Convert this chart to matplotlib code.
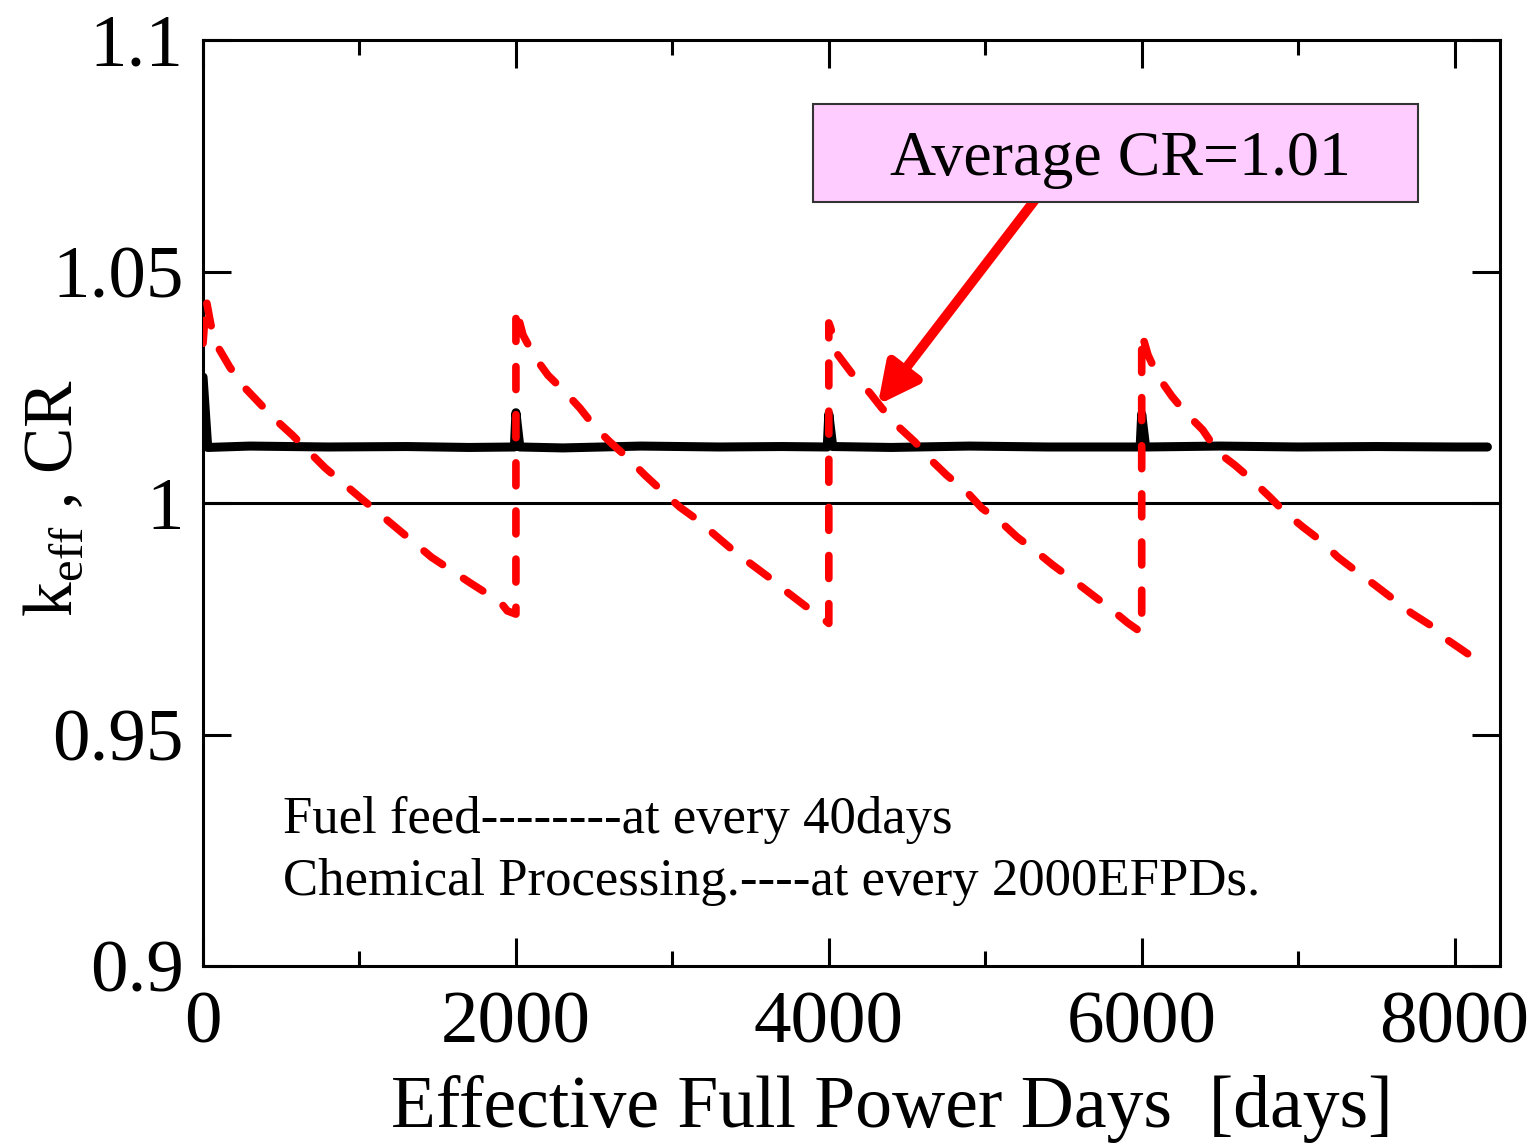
import numpy as np
import matplotlib
matplotlib.use('Agg')
import matplotlib.pyplot as plt
from matplotlib.patches import Rectangle

plt.rcParams['font.family'] = ['Liberation Serif', 'DejaVu Serif']
plt.rcParams['mathtext.fontset'] = 'custom'
plt.rcParams['mathtext.rm'] = 'Liberation Serif'

# keff (red dashed)
keff_days = [0, 20, 50, 90, 170, 250, 450, 570, 780, 1000, 1230, 1460, 1710, 1900, 1945, 2000,
             2000, 2045, 2121, 2205, 2313, 2409, 2505, 2601, 2716, 2825, 2940, 3048, 3163, 3272,
             3387, 3496, 3623, 3732, 3860, 3975, 4000,
             4000, 4010, 4058, 4147, 4262, 4339, 4454, 4550, 4665, 4754, 4882, 4978, 5106, 5202,
             5330, 5432, 5560, 5668, 5796, 5911, 6000,
             6000, 6040, 6103, 6192, 6275, 6390, 6486, 6595, 6691, 6819, 6915, 7031, 7139, 7254,
             7362, 7490, 7598, 7725, 7841, 7956, 8077, 8205]
keff_vals = [1.0345, 1.0440, 1.0385, 1.0340, 1.0294, 1.0255, 1.0184, 1.0147, 1.0076, 1.0013,
             0.9948, 0.9883, 0.9827, 0.9786, 0.9767, 0.9760,
             1.0421, 1.0363, 1.0315, 1.0276, 1.0240, 1.0205, 1.0164, 1.0132, 1.0097, 1.0060,
             1.0024, 0.9991, 0.9963, 0.9931, 0.9898, 0.9870, 0.9838, 0.9808, 0.9775, 0.9747, 0.9740,
             1.0389, 1.0380, 1.0320, 1.0280, 1.0238, 1.0205, 1.0162, 1.0132, 1.0089, 1.0060,
             1.0024, 0.9989, 0.9957, 0.9927, 0.9894, 0.9866, 0.9834, 0.9806, 0.9773, 0.9741, 0.9720,
             1.0367, 1.0320, 1.0274, 1.0231, 1.0197, 1.0158, 1.0110, 1.0082, 1.0054, 1.0013,
             0.9980, 0.9948, 0.9920, 0.9883, 0.9855, 0.9823, 0.9795, 0.9762, 0.9737, 0.9704,
             0.9676, 0.9646]

# conversion ratio CR (black solid)
cr_days = [0, 30, 300, 800, 1300, 1700, 1990, 2000, 2025, 2300, 2800, 3300, 3700, 3990,
           4000, 4025, 4400, 4900, 5400, 5990, 6000, 6025, 6500, 7000, 7500, 8000, 8210]
cr_vals = [1.0272, 1.0120, 1.0123, 1.0121, 1.0122, 1.0120, 1.0121, 1.0195, 1.0121, 1.0119,
           1.0123, 1.0121, 1.0122, 1.0121, 1.0192, 1.0122, 1.0120, 1.0123, 1.0121, 1.0121,
           1.0192, 1.0121, 1.0123, 1.0121, 1.0122, 1.0121, 1.0121]

xticks = [0, 2000, 4000, 6000, 8000]
yticks = [0.9, 0.95, 1.0, 1.05, 1.1]
ytick_labels = ['0.9', '0.95', '1', '1.05', '1.1']

fig = plt.figure(figsize=(15.37, 11.47), dpi=100)
ax = fig.add_axes([0.1321, 0.1578, 0.8438, 0.8073])

ax.axhline(1.0, color='black', lw=2.2, zorder=1)
ax.plot(cr_days, cr_vals, color='black', lw=6.5, solid_capstyle='round',
        solid_joinstyle='round', zorder=3)
ax.plot(keff_days, keff_vals, color='red', lw=5.5, dashes=(3.0, 3.3),
        dash_capstyle='round', dash_joinstyle='round', zorder=4)

ax.set_xlim(0, 8290)
ax.set_ylim(0.9, 1.1)
ax.set_xticks(xticks)
ax.set_xticks([1000, 3000, 5000, 7000], minor=True)
ax.set_yticks(yticks)
ax.set_yticklabels(ytick_labels)
ax.tick_params(which='both', direction='in', top=True, right=True, width=2.2)
ax.tick_params(which='major', length=20, labelsize=54)
ax.tick_params(axis='y', which='major', pad=14)
ax.tick_params(axis='x', which='major', pad=18)
ax.tick_params(which='minor', length=10.5)
for s in ax.spines.values():
    s.set_linewidth(2.2)

ax.set_xlabel('Effective Full Power Days  [days]', fontsize=53)
ax.xaxis.set_label_coords(0.531, -0.118)
ax.set_ylabel(r'k$_{\mathrm{eff}}$ , CR', fontsize=50)
ax.yaxis.set_label_coords(-0.09, 0.506)

# annotation box and arrow
ax.add_patch(Rectangle((0.4703, 0.8251), 0.4665, 0.1058, transform=ax.transAxes,
                       facecolor='#ffccff', edgecolor='#333333', lw=1.5, zorder=5))
ax.text(0.707, 0.870, 'Average CR=1.01', transform=ax.transAxes, fontsize=46,
        ha='center', va='center', zorder=6)
ax.annotate('', xy=(4313, 1.0212), xytext=(5316, 1.0654),
            arrowprops=dict(arrowstyle='-|>,head_length=2.4,head_width=1.2', color='red',
                            lw=7, mutation_scale=10, shrinkA=0, shrinkB=0), zorder=4)

ax.text(511, 0.9287, 'Fuel feed--------at every 40days', fontsize=38, va='baseline')
ax.text(511, 0.9153, 'Chemical Processing.----at every 2000EFPDs.', fontsize=38, va='baseline')

fig.savefig('out.png', dpi=100)
